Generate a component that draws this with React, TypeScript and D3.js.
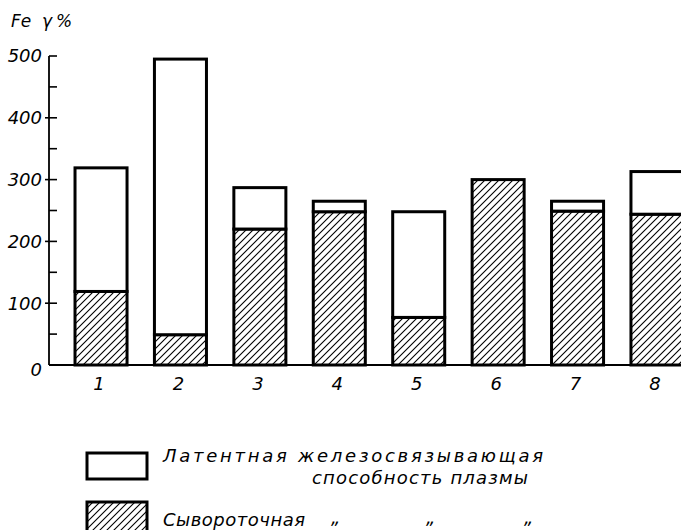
import { useEffect, useRef } from 'react'
import * as d3 from 'd3'

const categories = ['1', '2', '3', '4', '5', '6', '7', '8']
// serum iron (hatched part) and latent iron-binding capacity (open part), γ%
const serum = [119, 49, 220, 248, 77, 300, 249, 244]
const latent = [200, 446, 67, 17, 171, 0, 16, 69]
const yTicks = [0, 50, 100, 150, 200, 250, 300, 350, 400, 450, 500]

const W = 681
const H = 530
const FONT = '"DejaVu Sans", "Liberation Sans", sans-serif'

export default function App() {
  const svgRef = useRef<SVGSVGElement>(null)

  useEffect(() => {
    if (!svgRef.current) return
    const svg = d3.select(svgRef.current)
    svg.selectAll('*').remove()

    const x0 = 49
    const y = d3.scaleLinear().domain([0, 500]).range([365, 56])
    const x = d3.scaleBand<string>()
      .domain(categories)
      .range([50, 708])
      .paddingInner(0.345)
      .paddingOuter(0.315)

    const defs = svg.append('defs')
    const pat = defs.append('pattern')
      .attr('id', 'hatch')
      .attr('patternUnits', 'userSpaceOnUse')
      .attr('width', 7)
      .attr('height', 7)
    pat.append('path')
      .attr('d', 'M-1,8 L8,-1 M-2,2 L2,-2 M5,9 L9,5')
      .attr('stroke', '#000')
      .attr('stroke-width', 1.1)

    // axes
    svg.append('line')
      .attr('x1', x0).attr('x2', x0)
      .attr('y1', y(500)).attr('y2', y(0))
      .attr('stroke', '#000').attr('stroke-width', 1.8)
    svg.append('line')
      .attr('x1', x0).attr('x2', W)
      .attr('y1', y(0)).attr('y2', y(0))
      .attr('stroke', '#000').attr('stroke-width', 1.8)

    const ticks = svg.append('g')
    ticks.selectAll('line')
      .data(yTicks.filter(v => v > 0))
      .enter().append('line')
      .attr('x1', v => (v % 100 === 0 && v < 500 ? x0 - 4 : x0))
      .attr('x2', x0 + 8)
      .attr('y1', v => y(v)).attr('y2', v => y(v))
      .attr('stroke', '#000').attr('stroke-width', 1.6)

    ticks.selectAll('text')
      .data(yTicks.filter(v => v % 100 === 0))
      .enter().append('text')
      .attr('x', x0 - 7)
      .attr('y', v => y(v) + (v === 0 ? 5 : 0))
      .attr('dy', '0.36em')
      .attr('text-anchor', 'end')
      .style('font-family', FONT)
      .style('font-style', 'italic')
      .style('font-size', '18px')
      .text(v => String(v))

    const unit = svg.append('g')
      .style('font-family', FONT)
      .style('font-style', 'italic')
      .style('font-size', '17px')
    unit.append('text').attr('x', 11).attr('y', 27).text('Fe')
    unit.append('text').attr('x', 42).attr('y', 27).text('γ')
    unit.append('text').attr('x', 56).attr('y', 27).text('%')

    // bars
    const bars = svg.append('g')
    categories.forEach((c, i) => {
      const bx = x(c)!
      const bw = x.bandwidth()
      const s = serum[i]
      const l = latent[i]
      bars.append('rect')
        .attr('x', bx).attr('width', bw)
        .attr('y', y(s)).attr('height', y(0) - y(s))
        .attr('fill', 'url(#hatch)')
        .attr('stroke', '#000').attr('stroke-width', 3)
      if (l > 0) {
        bars.append('rect')
          .attr('x', bx).attr('width', bw)
          .attr('y', y(s + l)).attr('height', y(s) - y(s + l))
          .attr('fill', '#fff')
          .attr('stroke', '#000').attr('stroke-width', 3)
      }
      bars.append('text')
        .attr('x', bx + bw / 2 - 2)
        .attr('y', 390)
        .attr('text-anchor', 'middle')
        .style('font-family', FONT)
        .style('font-style', 'italic')
        .style('font-size', '18px')
        .text(c)
    })

    // legend
    const lg = svg.append('g')
    lg.append('rect')
      .attr('x', 87).attr('y', 453).attr('width', 60).attr('height', 26)
      .attr('fill', '#fff').attr('stroke', '#000').attr('stroke-width', 3)
    lg.append('rect')
      .attr('x', 87).attr('y', 502).attr('width', 60).attr('height', 40)
      .attr('fill', 'url(#hatch)').attr('stroke', '#000').attr('stroke-width', 3)

    const legText = (t: string, tx: number, ty: number, len?: number) => {
      const el = lg.append('text')
        .attr('x', tx).attr('y', ty)
        .style('font-family', FONT)
        .style('font-style', 'italic')
        .style('font-size', '18px')
        .text(t)
      if (len) el.attr('textLength', len).attr('lengthAdjust', 'spacing')
    }
    legText('Латентная железосвязывающая', 163, 462, 380)
    legText('способность плазмы', 312, 484, 216)
    legText('Сывороточная', 163, 526, 142)
    legText('„', 331, 524)
    legText('„', 426, 524)
    legText('„', 524, 524)
  }, [])

  return (
    <svg
      ref={svgRef}
      width={W}
      height={H}
      style={{ position: 'absolute', left: 0, top: 0, background: '#fff', overflow: 'hidden' }}
    />
  )
}
